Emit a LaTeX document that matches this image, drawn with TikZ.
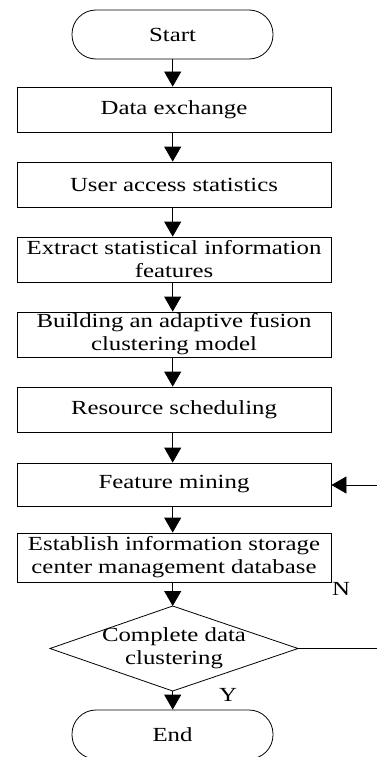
\documentclass[tikz,border=0pt]{standalone}
\usepackage{fontspec}
\setmainfont{Liberation Serif}[FakeStretch=1.24]
\usetikzlibrary{arrows.meta,shapes.geometric}
\begin{document}
\begin{tikzpicture}[x=1pt,y=-1pt,
  every node/.style={font=\fontsize{20}{23}\selectfont},
  box/.style={draw,line width=0.8pt,minimum width=314pt,inner sep=0pt,align=center},
  term/.style={draw,line width=0.8pt,minimum width=201pt,minimum height=49pt,rounded corners=24pt,inner sep=0pt},
  dectext/.style={inner sep=0pt,align=center},
  flow/.style={line width=0.8pt,-{Triangle[width=17pt,length=15pt]}},
  plain/.style={line width=0.8pt}]
\useasboundingbox (0,0) rectangle (377,757);
\node[term] (start) at (172.5,34.5) {Start};
\node[box,minimum height=45pt] (data) at (174,109.5) {Data exchange};
\node[box,minimum height=45pt] (user) at (174,184.5) {User access statistics};
\node[box,minimum height=45pt] (extract) at (174,259.5) {Extract statistical information\\features};
\node[box,minimum height=45pt] (build) at (174,334.5) {Building an adaptive fusion\\clustering model};
\node[box,minimum height=45pt] (res) at (174,409.5) {Resource scheduling};
\node[box,minimum height=43pt] (feat) at (174,484.5) {Feature mining};
\node[box,minimum height=49pt] (est) at (174,557.5) {Establish information storage\\center management database};
% decision diamond
\coordinate (dtop) at (172.7,606);
\coordinate (dbot) at (172.7,691);
\coordinate (dleft) at (50,648.5);
\coordinate (dright) at (298,648.5);
\draw[plain] (dtop) -- (dright) -- (dbot) -- (dleft) -- cycle;
\node[dectext] (dec) at (174,648.5) {Complete data\\clustering};
\node[term] (end) at (172.5,734.5) {End};
\node (n) at (341,589) {N};
\node (y) at (228,695) {Y};
\coordinate (r1) at (377,648.5);
\coordinate (r2) at (377,485);
\draw[flow] (start.south -| 172.7,0) -- (data.north -| 172.7,0);
\draw[flow] (data.south -| 172.7,0) -- (user.north -| 172.7,0);
\draw[flow] (user.south -| 172.7,0) -- (extract.north -| 172.7,0);
\draw[flow] (extract.south -| 172.7,0) -- (build.north -| 172.7,0);
\draw[flow] (build.south -| 172.7,0) -- (res.north -| 172.7,0);
\draw[flow] (res.south -| 172.7,0) -- (feat.north -| 172.7,0);
\draw[flow] (feat.south -| 172.7,0) -- (est.north -| 172.7,0);
\draw[flow] (est.south -| 172.7,0) -- (dtop);
\draw[flow] (dbot) -- (end.north -| 172.7,0);
\draw[plain] (dright) -- (r1);
\draw[flow] (r2) -- (feat.east |- r2);
\end{tikzpicture}
\end{document}
